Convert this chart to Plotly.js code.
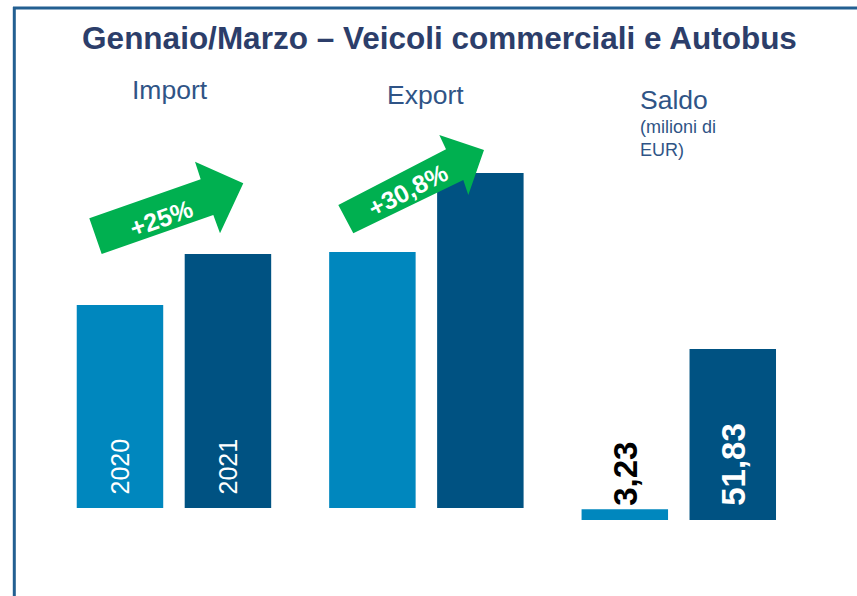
<!DOCTYPE html>
<html>
<head>
<meta charset="utf-8">
<script src="https://cdn.plot.ly/plotly-3.0.1.min.js"></script>
<style>html,body{margin:0;padding:0;background:#fff;}#chart{width:857px;height:596px;}</style>
</head>
<body>
<div id="chart"></div>
<script>
// ---- data ----
const categories = ['Import', 'Export'];
const seriesYears = ['2020', '2021'];
const values2020 = [203, 256];   // Import, Export (relative bar heights)
const values2021 = [254, 335];
const saldoCategory = ['Saldo'];
const saldo2020 = [3.23];        // milioni di EUR
const saldo2021 = [51.83];
const saldoLabels = ['3,23', '51,83'];
const growthLabels = ['+25%', '+30,8%'];

// ---- styling ----
const W = 857, H = 596;
const light = '#0087be', dark = '#005282', green = '#00b050';
const px = x => x / W, py = y => 1 - y / H;
const font = 'Liberation Sans, Arial, sans-serif';

const traces = [
  {type: 'bar', x: categories, y: values2020, name: seriesYears[0], marker: {color: light}, xaxis: 'x', yaxis: 'y', hoverinfo: 'skip'},
  {type: 'bar', x: categories, y: values2021, name: seriesYears[1], marker: {color: dark}, xaxis: 'x', yaxis: 'y', hoverinfo: 'skip'},
  {type: 'bar', x: saldoCategory, y: saldo2020, name: seriesYears[0], marker: {color: light}, xaxis: 'x', yaxis: 'y2', hoverinfo: 'skip'},
  {type: 'bar', x: saldoCategory, y: saldo2021, name: seriesYears[1], marker: {color: dark}, xaxis: 'x', yaxis: 'y2', hoverinfo: 'skip'}
];

function poly(pts) {
  return 'M ' + pts.map(p => px(p[0]) + ',' + py(p[1])).join(' L ') + ' Z';
}
const arrow1 = [[101.7,254],[89.3,218.3],[200.7,179.3],[195,161.7],[243.3,183.3],[220,233.3],[213.3,215]];
const arrow2 = [[353.3,233.3],[338.3,205],[446,149.3],[439.3,135],[484,150],[468.3,195],[463.3,180]];

const shapes = [
  {type: 'line', xref: 'paper', yref: 'paper', x0: px(13), x1: 1, y0: py(8), y1: py(8), line: {color: '#235f91', width: 3}},
  {type: 'line', xref: 'paper', yref: 'paper', x0: px(14.3), x1: px(14.3), y0: py(7), y1: 0, line: {color: '#235f91', width: 3}},
  {type: 'path', xref: 'paper', yref: 'paper', path: poly(arrow1), fillcolor: green, line: {width: 0}},
  {type: 'path', xref: 'paper', yref: 'paper', path: poly(arrow2), fillcolor: green, line: {width: 0}}
];

const hdr = '#2f5486';
const annotations = [
  {text: 'Import', x: px(170), y: py(90), xref: 'paper', yref: 'paper', showarrow: false, xanchor: 'center', yanchor: 'middle', font: {family: font, size: 26.5, color: hdr}},
  {text: 'Export', x: px(425.5), y: py(95), xref: 'paper', yref: 'paper', showarrow: false, xanchor: 'center', yanchor: 'middle', font: {family: font, size: 26.5, color: hdr}},
  {text: 'Saldo', x: px(638), y: py(100), xref: 'paper', yref: 'paper', showarrow: false, xanchor: 'left', yanchor: 'middle', font: {family: font, size: 26.5, color: hdr}},
  {text: '(milioni di', x: px(638), y: py(127), xref: 'paper', yref: 'paper', showarrow: false, xanchor: 'left', yanchor: 'middle', font: {family: font, size: 18, color: hdr}},
  {text: 'EUR)', x: px(638), y: py(150), xref: 'paper', yref: 'paper', showarrow: false, xanchor: 'left', yanchor: 'middle', font: {family: font, size: 18, color: hdr}},
  // year labels inside import bars
  {text: seriesYears[0], x: categories[0], y: 0, xref: 'x', yref: 'y', xshift: -54, yshift: 41.5, textangle: -90, showarrow: false, xanchor: 'center', yanchor: 'middle', font: {family: font, size: 25, color: '#ffffff'}},
  {text: seriesYears[1], x: categories[0], y: 0, xref: 'x', yref: 'y', xshift: 54, yshift: 41.5, textangle: -90, showarrow: false, xanchor: 'center', yanchor: 'middle', font: {family: font, size: 25, color: '#ffffff'}},
  // saldo labels
  {text: '<b>' + saldoLabels[0] + '</b>', x: saldoCategory[0], y: 0, xref: 'x', yref: 'y2', xshift: -54, yshift: 46, textangle: -90, showarrow: false, xanchor: 'center', yanchor: 'middle', font: {family: font, size: 33, color: '#000000'}},
  {text: '<b>' + saldoLabels[1] + '</b>', x: saldoCategory[0], y: 0, xref: 'x', yref: 'y2', xshift: 54, yshift: 56, textangle: -90, showarrow: false, xanchor: 'center', yanchor: 'middle', font: {family: font, size: 33, color: '#ffffff'}},
  // growth labels on arrows
  {text: '<b>' + growthLabels[0] + '</b>', x: px(161.7), y: py(218.3), xref: 'paper', yref: 'paper', textangle: -19.5, showarrow: false, xanchor: 'center', yanchor: 'middle', font: {family: font, size: 25, color: '#ffffff'}},
  {text: '<b>' + growthLabels[1] + '</b>', x: px(408), y: py(190), xref: 'paper', yref: 'paper', textangle: -27.4, showarrow: false, xanchor: 'center', yanchor: 'middle', font: {family: font, size: 25, color: '#ffffff'}}
];

const hidden = {visible: false, showgrid: false, zeroline: false, showticklabels: false, fixedrange: true};
const layout = {
  width: W, height: H,
  margin: {l: 0, r: 0, t: 0, b: 0},
  paper_bgcolor: '#ffffff', plot_bgcolor: 'rgba(0,0,0,0)',
  showlegend: false,
  barmode: 'group', bargap: 0.1446, bargroupgap: 0.199,
  title: {text: '<b>Gennaio/Marzo – Veicoli commerciali e Autobus</b>', x: px(439.5), xanchor: 'center', y: py(38), yanchor: 'middle', xref: 'paper', yref: 'paper', font: {family: font, size: 31.5, color: '#2c3e6a'}},
  xaxis: Object.assign({}, hidden, {type: 'category', categoryarray: categories.concat(saldoCategory), categoryorder: 'array', range: [-0.5, 2.5], domain: [px(47.75), px(805)], anchor: 'y'}),
  yaxis: Object.assign({}, hidden, {range: [0, 335], domain: [py(508), py(173)], anchor: 'x'}),
  yaxis2: Object.assign({}, hidden, {range: [0, 51.83], domain: [py(520), py(349)], anchor: 'x'}),
  shapes: shapes,
  annotations: annotations
};

Plotly.newPlot('chart', traces, layout, {displayModeBar: false, staticPlot: true});
</script>
</body>
</html>
